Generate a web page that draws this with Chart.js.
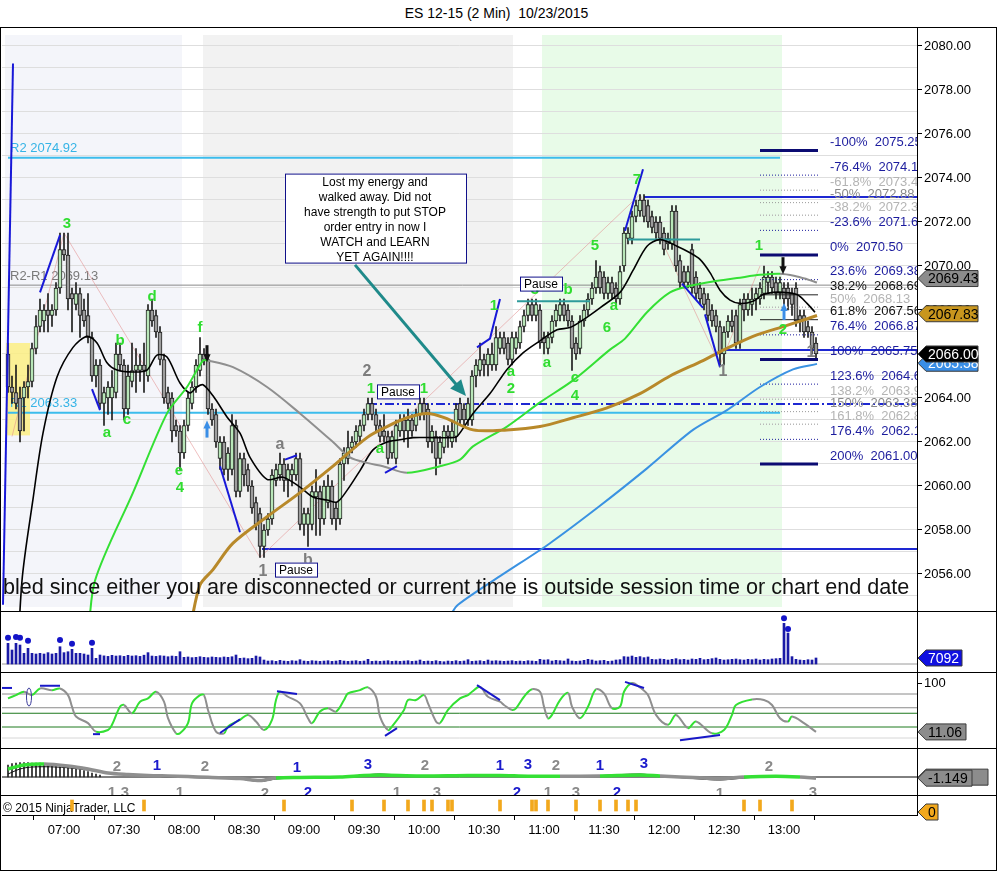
<!DOCTYPE html>
<html lang="en">
<head>
<meta charset="utf-8">
<title>ES 12-15 (2 Min) 10/23/2015</title>
<script src="https://cdn.jsdelivr.net/npm/chart.js@4.4.1/dist/chart.umd.min.js"></script>
<style>
  html, body { margin: 0; padding: 0; background: #fff; }
  #wrap { position: relative; width: 997px; height: 871px; overflow: hidden; font-family: 'Liberation Sans', Arial, sans-serif; }
  #title { position: absolute; left: 0; top: 5px; width: 993px; text-align: center; font-size: 14px; line-height: 16px; color: #000; }
  #frame { position: absolute; left: 0; top: 27px; width: 997px; height: 844px; box-sizing: border-box; border: 1px solid #000; z-index: 3; pointer-events: none; }
  .sep { position: absolute; left: 0; width: 997px; height: 1px; background: #000; z-index: 3; }
  canvas { position: absolute; left: 0; }
</style>
</head>
<body>
<div id="wrap">
  <div id="title">ES 12-15 (2 Min)&nbsp; 10/23/2015</div>
  <canvas id="priceChart" width="997" height="583" style="top:28px"></canvas>
  <canvas id="volumeChart" width="997" height="61" style="top:611px"></canvas>
  <canvas id="stochChart" width="997" height="76" style="top:672px"></canvas>
  <canvas id="macdChart" width="997" height="47" style="top:748px"></canvas>
  <canvas id="timeChart" width="997" height="76" style="top:795px"></canvas>
  <div class="sep" style="top:611px"></div>
  <div class="sep" style="top:672px"></div>
  <div class="sep" style="top:748px"></div>
  <div class="sep" style="top:795px"></div>
  <div id="frame"></div>
</div>
<script>
// ---------- data ----------
const sessionStart = '06:32';          // first 2 minute bar
const timeTicks = ['07:00', '07:30', '08:00', '08:30', '09:00', '09:30', '10:00',
                   '10:30', '11:00', '11:30', '12:00', '12:30', '13:00'];

const opens = [
  2066.0, 2064.5, 2064.25, 2064.0, 2064.0, 2064.5, 2064.75, 2066.25, 2067.25, 2067.5,
  2068.0, 2067.75, 2068.0, 2069.0, 2070.75, 2070.5, 2068.75, 2068.25, 2068.75, 2068.0,
  2067.75, 2066.75, 2065.0, 2065.5, 2063.75, 2064.0, 2064.0, 2064.25, 2066.0, 2065.5,
  2063.5, 2064.75, 2065.25, 2065.25, 2065.5, 2065.0, 2068.0, 2067.75, 2067.0, 2065.75,
  2064.25, 2064.0, 2062.75, 2062.5, 2061.5, 2062.75, 2063.75, 2064.5, 2065.25, 2066.0,
  2065.75, 2063.5, 2063.25, 2061.25, 2062.0, 2060.75, 2060.75, 2062.75, 2059.75, 2061.25,
  2060.75, 2060.0, 2059.25, 2058.75, 2057.25, 2058.0, 2058.5, 2060.25, 2060.5, 2061.0,
  2060.25, 2060.5, 2060.5, 2061.25, 2058.25, 2058.25, 2058.25, 2059.5, 2059.75, 2058.5,
  2059.25, 2060.0, 2059.0, 2058.5, 2061.0, 2061.25, 2061.75, 2062.0, 2062.25, 2062.75,
  2063.25, 2063.75, 2063.25, 2062.75, 2062.5, 2062.25, 2061.5, 2061.25, 2062.5, 2063.0,
  2062.5, 2063.0, 2062.75, 2063.25, 2063.75, 2063.5, 2062.0, 2062.25, 2061.25, 2061.75,
  2062.5, 2062.0, 2062.25, 2063.75, 2063.5, 2063.0, 2063.0, 2065.0, 2065.25, 2065.75,
  2065.5, 2065.5, 2065.5, 2066.25, 2066.75, 2066.5, 2065.75, 2066.25, 2066.5, 2067.25,
  2067.75, 2068.25, 2067.75, 2068.0, 2066.75, 2066.25, 2066.75, 2067.5, 2067.75, 2068.25,
  2068.0, 2067.5, 2066.5, 2066.25, 2067.5, 2068.0, 2068.5, 2069.0, 2069.75, 2069.5,
  2068.75, 2069.25, 2069.0, 2068.5, 2070.0, 2071.25, 2071.25, 2072.25, 2072.5, 2073.0,
  2072.75, 2072.25, 2072.0, 2072.0, 2071.5, 2071.25, 2071.0, 2072.5, 2070.25, 2069.75,
  2069.25, 2070.75, 2069.5, 2069.0, 2068.75, 2068.5, 2068.0, 2067.75, 2067.25, 2066.0,
  2067.0, 2067.5, 2067.75, 2066.5, 2068.5, 2068.0, 2068.25, 2068.5, 2068.5, 2068.75,
  2069.25, 2069.5, 2069.25, 2068.75, 2069.0, 2069.0, 2068.75, 2069.0, 2067.75, 2067.75,
  2067.25, 2067.0, 2066.5
];
const highs = [
  2066.5, 2065.0, 2065.5, 2064.5, 2064.75, 2065.5, 2066.5, 2067.75, 2068.5, 2068.25,
  2068.75, 2068.25, 2069.25, 2071.5, 2071.5, 2071.5, 2069.0, 2069.25, 2069.0, 2068.5,
  2068.75, 2067.0, 2065.75, 2065.75, 2064.5, 2064.75, 2065.25, 2066.5, 2066.5, 2065.75,
  2065.5, 2066.5, 2066.25, 2066.0, 2066.5, 2068.25, 2068.5, 2068.0, 2067.25, 2066.0,
  2064.5, 2064.25, 2063.0, 2062.75, 2063.0, 2064.25, 2064.75, 2065.75, 2066.75, 2066.25,
  2066.0, 2063.75, 2063.5, 2062.25, 2062.25, 2061.75, 2063.25, 2063.0, 2061.5, 2061.5,
  2061.0, 2060.25, 2059.5, 2059.0, 2058.25, 2058.75, 2060.75, 2061.0, 2061.5, 2061.25,
  2061.0, 2061.0, 2061.5, 2061.5, 2059.0, 2059.0, 2060.0, 2060.75, 2060.0, 2060.25,
  2060.5, 2060.25, 2059.25, 2061.25, 2061.75, 2062.5, 2062.25, 2062.75, 2063.0, 2063.5,
  2064.0, 2064.0, 2063.5, 2063.0, 2063.25, 2062.5, 2062.5, 2063.0, 2063.25, 2063.25,
  2063.5, 2063.25, 2063.5, 2064.0, 2064.0, 2063.75, 2062.75, 2062.5, 2062.25, 2062.75,
  2062.75, 2063.0, 2063.75, 2064.0, 2063.75, 2064.0, 2065.25, 2065.75, 2066.5, 2066.0,
  2066.25, 2066.5, 2067.25, 2067.0, 2067.0, 2066.75, 2067.0, 2067.0, 2067.5, 2068.0,
  2068.5, 2068.5, 2068.5, 2068.25, 2067.0, 2067.0, 2067.75, 2068.25, 2068.5, 2068.5,
  2068.25, 2067.75, 2066.75, 2067.75, 2068.25, 2068.75, 2069.25, 2070.25, 2070.0, 2069.75,
  2069.5, 2069.5, 2069.25, 2070.0, 2071.75, 2071.75, 2072.5, 2073.0, 2073.25, 2073.25,
  2073.0, 2072.5, 2072.25, 2072.25, 2071.75, 2071.5, 2072.75, 2072.75, 2070.5, 2070.0,
  2070.0, 2071.0, 2069.75, 2069.25, 2069.0, 2068.75, 2068.25, 2068.0, 2067.5, 2067.25,
  2067.75, 2068.0, 2068.0, 2068.5, 2068.75, 2068.75, 2069.0, 2069.0, 2069.25, 2070.0,
  2069.75, 2069.75, 2069.5, 2069.5, 2069.25, 2069.25, 2069.0, 2069.25, 2068.0, 2068.0,
  2067.5, 2067.25, 2066.75
];
const lows = [
  2064.25, 2063.75, 2063.5, 2062.0, 2062.5, 2064.0, 2064.5, 2066.0, 2067.0, 2067.0,
  2067.0, 2067.25, 2067.75, 2068.75, 2070.25, 2068.0, 2067.0, 2068.0, 2066.75, 2067.25,
  2066.5, 2064.75, 2064.5, 2063.5, 2062.75, 2063.25, 2063.0, 2064.0, 2065.25, 2063.0,
  2063.25, 2064.5, 2064.25, 2064.75, 2064.25, 2064.75, 2067.25, 2066.75, 2065.5, 2063.75,
  2063.5, 2062.0, 2062.25, 2060.75, 2061.25, 2062.5, 2063.5, 2064.25, 2065.0, 2065.5,
  2063.25, 2062.75, 2061.75, 2060.75, 2060.5, 2060.25, 2060.5, 2059.5, 2059.5, 2060.0,
  2059.75, 2058.75, 2058.0, 2056.75, 2056.75, 2057.75, 2058.25, 2060.0, 2060.25, 2059.75,
  2059.5, 2060.0, 2060.25, 2058.0, 2057.75, 2057.25, 2058.0, 2057.75, 2057.75, 2058.25,
  2059.0, 2058.25, 2058.0, 2058.25, 2060.25, 2061.0, 2061.5, 2061.75, 2062.0, 2062.5,
  2063.0, 2063.0, 2062.5, 2062.0, 2062.0, 2061.0, 2061.25, 2061.0, 2062.25, 2062.0,
  2061.75, 2062.25, 2062.5, 2063.0, 2063.0, 2061.75, 2061.5, 2060.5, 2061.0, 2061.5,
  2061.75, 2061.75, 2062.0, 2062.75, 2062.75, 2062.75, 2062.75, 2064.5, 2065.0, 2065.0,
  2065.0, 2065.25, 2065.25, 2066.0, 2066.0, 2065.5, 2065.5, 2066.0, 2066.25, 2067.0,
  2067.5, 2067.5, 2067.5, 2066.25, 2066.0, 2066.0, 2066.5, 2067.25, 2067.5, 2067.5,
  2067.25, 2065.25, 2065.75, 2066.0, 2067.25, 2067.75, 2068.25, 2068.75, 2068.75, 2068.5,
  2068.5, 2068.5, 2068.25, 2068.25, 2069.75, 2071.0, 2071.0, 2072.0, 2072.25, 2072.0,
  2071.75, 2071.5, 2071.25, 2071.0, 2070.5, 2070.75, 2070.75, 2069.75, 2069.0, 2069.0,
  2069.0, 2068.75, 2068.5, 2068.25, 2068.0, 2067.5, 2067.25, 2067.0, 2065.5, 2065.5,
  2066.75, 2067.0, 2066.25, 2066.25, 2067.5, 2067.75, 2067.75, 2068.0, 2068.25, 2068.5,
  2068.75, 2068.75, 2068.5, 2068.5, 2068.25, 2068.0, 2067.75, 2067.25, 2067.0, 2066.75,
  2066.75, 2066.0, 2065.75
];
const closes = [
  2064.5, 2064.25, 2063.75, 2062.5, 2064.5, 2064.75, 2066.25, 2067.25, 2068.0, 2068.0,
  2067.75, 2068.0, 2069.0, 2070.75, 2070.5, 2068.5, 2068.5, 2068.75, 2067.75, 2067.5,
  2066.75, 2065.0, 2065.5, 2063.75, 2064.25, 2064.5, 2064.5, 2066.0, 2065.5, 2063.5,
  2065.0, 2065.25, 2065.5, 2065.5, 2065.25, 2068.0, 2067.5, 2067.0, 2065.75, 2064.0,
  2063.75, 2062.5, 2062.5, 2061.5, 2062.75, 2064.0, 2064.5, 2065.5, 2066.0, 2065.75,
  2063.5, 2063.0, 2062.0, 2062.0, 2060.75, 2061.5, 2062.75, 2059.75, 2061.25, 2060.5,
  2060.0, 2059.0, 2058.25, 2057.25, 2058.0, 2058.5, 2060.5, 2060.75, 2061.0, 2060.25,
  2060.75, 2060.75, 2061.25, 2058.25, 2058.75, 2058.75, 2059.75, 2059.75, 2058.5, 2060.0,
  2060.0, 2058.5, 2058.5, 2061.0, 2061.5, 2061.75, 2062.0, 2062.5, 2062.75, 2063.25,
  2063.75, 2063.25, 2062.75, 2062.25, 2062.25, 2061.25, 2062.25, 2062.75, 2063.0, 2062.5,
  2063.0, 2062.5, 2063.25, 2063.75, 2063.25, 2062.0, 2062.5, 2061.25, 2062.0, 2062.5,
  2062.25, 2062.5, 2063.5, 2063.0, 2063.0, 2063.75, 2065.0, 2065.5, 2065.75, 2065.5,
  2066.0, 2066.0, 2066.75, 2066.75, 2066.25, 2065.75, 2066.75, 2066.75, 2067.25, 2067.75,
  2068.25, 2067.75, 2068.25, 2066.5, 2066.5, 2066.75, 2067.5, 2068.0, 2068.25, 2067.75,
  2067.5, 2066.25, 2066.0, 2067.5, 2068.0, 2068.5, 2069.0, 2069.5, 2069.0, 2068.75,
  2069.25, 2068.75, 2068.5, 2069.75, 2071.5, 2071.5, 2072.25, 2072.75, 2073.0, 2072.25,
  2072.0, 2071.75, 2071.5, 2071.25, 2070.75, 2071.0, 2072.5, 2070.0, 2069.25, 2069.25,
  2069.75, 2069.0, 2068.75, 2068.5, 2068.25, 2067.75, 2067.5, 2067.25, 2066.0, 2067.0,
  2067.5, 2067.25, 2066.5, 2068.25, 2068.0, 2068.5, 2068.5, 2068.75, 2069.0, 2069.5,
  2069.5, 2069.0, 2068.75, 2069.25, 2068.5, 2068.5, 2068.25, 2067.5, 2067.5, 2067.0,
  2067.0, 2066.25, 2066.0
];
const volumes = [
  24400, 16500, 24400, 22400, 12600, 18500, 12600, 11800, 12600, 11800,
  13400, 11800, 12600, 20400, 13400, 14500, 17300, 12600, 12600, 11800,
  10600, 18500, 6700, 10600, 9600, 9000, 10200, 9400, 9800, 9000,
  10200, 9400, 9800, 9000, 10400, 13400, 9400, 9000, 9800, 9400,
  8600, 9400, 9000, 14500, 7900, 8300, 7500, 7900, 8600, 7900,
  7500, 8300, 7900, 7500, 8300, 7900, 8600, 10600, 6700, 7100,
  6300, 6700, 9400, 8300, 4700, 3500, 3900, 3100, 4300, 3500,
  3100, 3900, 3500, 5100, 3500, 3100, 3900, 3500, 3100, 3500,
  3900, 3100, 3500, 4300, 3500, 3100, 3500, 3900, 3100, 3500,
  5500, 3100, 3500, 3100, 3500, 3900, 3100, 3500, 3100, 3500,
  3900, 3100, 3500, 4700, 3100, 3500, 3100, 3900, 3100, 2700,
  3500, 3100, 3900, 3100, 3500, 5100, 3100, 3500, 3900, 3100,
  4700, 3500, 3900, 3500, 3100, 3500, 3900, 3100, 3500, 3100,
  3900, 3500, 3100, 5500, 4700, 5100, 3500, 4300, 3900, 3500,
  5900, 3500, 3100, 3500, 4300, 5500, 4700, 3500, 3900, 4300,
  3100, 3500, 4700, 5100, 8700, 8300, 9400, 7900, 8700, 7500,
  8300, 5500, 5100, 5900, 5500, 4700, 5500, 6300, 5100, 5500,
  4700, 5900, 5500, 6700, 5100, 5500, 6300, 7100, 5500, 4700,
  5100, 5500, 5900, 5100, 4700, 5500, 5100, 5900, 4700, 5500,
  5100, 5900, 6300, 6700, 48000, 36500, 8700, 5500, 4700, 4300,
  5100, 4700, 7092
];
const volumeDots = [[0, 31000], [2, 32000], [3, 31000], [5, 27500], [13, 28300],
                    [16, 24000], [21, 25000], [194, 54000], [195, 41300]];

// moving averages as drawn (bar, price)
const fastMA = [[2, 2050.5], [3.5, 2055.7], [6.25, 2059.4], [8.75, 2062.4], [12.25, 2064.95],
  [16.25, 2066.3], [19.75, 2066.8], [22.25, 2066.5], [24.75, 2065.6], [27.25, 2065.27],
  [31.25, 2065.18], [34.75, 2065.27], [37.25, 2065.95], [39.75, 2065.86], [43, 2064.68],
  [45.5, 2064.23], [47.25, 2064.5], [48.75, 2064.6], [51.25, 2064.1], [54.75, 2063.14],
  [58, 2062.4], [60.5, 2061.3], [64.75, 2060.3], [68.75, 2060.4], [73, 2059.95],
  [76.25, 2059.5], [79.75, 2059.36], [82.25, 2059.27], [84.75, 2059.8], [88, 2060.7],
  [91.25, 2061.64], [94.75, 2062.0], [98, 2062.1], [101.25, 2062.2], [106.25, 2062.2],
  [110.5, 2062.2], [112.25, 2062.25], [116.25, 2063.3], [120.5, 2064.2], [124.75, 2065.3],
  [128.75, 2066.05], [133, 2066.6], [137.25, 2067.1], [140.5, 2067.2], [143.75, 2067.55],
  [148, 2068.1], [153, 2068.8], [156.25, 2069.8], [159.75, 2070.9], [163, 2071.2],
  [167.25, 2070.9], [170.5, 2070.6], [173, 2070.3], [175.5, 2069.7], [178, 2068.9],
  [180.5, 2068.45], [183, 2068.3], [186.25, 2068.4], [188.75, 2068.7], [191.25, 2068.8],
  [193.75, 2068.8], [197.25, 2068.7], [199.75, 2068.3], [201.75, 2067.9]];
const slopeMA = [[20, 2053.0], [21.75, 2055.7], [31.25, 2059.7], [39.75, 2063.3], [44.75, 2064.5],
  [48.75, 2065.7], [50, 2065.7], [56.25, 2065.4], [64.75, 2064.5], [73, 2063.3],
  [81.25, 2062.0], [85.5, 2061.3], [89.75, 2061.05], [93.75, 2060.9], [99.75, 2060.6],
  [108, 2060.9], [113, 2061.2], [116.25, 2061.8], [124.75, 2062.7], [133, 2063.8],
  [141.25, 2064.8], [150.5, 2066.2], [154.25, 2066.7], [159.75, 2067.9], [165.5, 2068.8],
  [170.5, 2069.1], [176.25, 2069.3], [182.25, 2069.45], [188, 2069.6], [193, 2069.65],
  [196.75, 2069.55], [199.75, 2069.4], [202.25, 2069.25]];
const goldMA = [[45.5, 2053.5], [48, 2055.5], [51.25, 2056.2], [56.25, 2057.4], [64.75, 2058.6],
  [73, 2059.7], [81.25, 2060.9], [89.75, 2062.2], [94.75, 2062.7], [99.75, 2063.1],
  [104.75, 2063.3], [109.25, 2063.1], [116.25, 2062.55], [124.75, 2062.55], [133, 2062.7],
  [141.25, 2063.1], [149.75, 2063.55], [158, 2064.2], [165.5, 2065.0], [173.75, 2065.7],
  [178, 2066.1], [186.25, 2066.8], [194.75, 2067.3], [202.25, 2067.75]];
const blueMA = [[110.5, 2054.1], [112.5, 2054.6], [123, 2055.9], [135.5, 2057.4], [148, 2059.1],
  [159.75, 2060.8], [171.25, 2062.55], [179.75, 2063.45], [188, 2064.5], [196.25, 2065.3],
  [202.25, 2065.55]];

// levels and drawings on the price panel
const pivotLevels = [['R2', 2074.92], ['R2-R1', 2069.13], ['R1', 2063.33]];
const drawnLevels = [[90, 2063.73], [63.5, 2057.14], [159, 2073.14], [178, 2066.18]];
const tealLevels = [[127.25, 145.5, 2068.4], [155, 173, 2071.2]];
const trendMarks = [
  [[-1.25, 2054.6], [1.25, 2079.2]],
  [[8, 2068.8], [13, 2071.4]],
  [[21, 2064.4], [23, 2063.45]],
  [[53, 2060.9], [58, 2057.9]],
  [[69.25, 2061.2], [72.25, 2061.4]],
  [[94.25, 2060.6], [97.25, 2060.9]],
  [[117.25, 2066.3], [120.5, 2066.7], [123, 2068.5]],
  [[154.25, 2071.6], [158.75, 2074.4]],
  [[168.5, 2069.2], [173.75, 2068.1]],
  [[174.25, 2067.8], [178, 2065.4]]
];
const zigzag = [[1, 2062.25], [14, 2071.5], [63, 2056.75], [158, 2073.25], [178, 2065.5], [188, 2070.0]];
const fibLevels = [
  ['-100%', 2075.25, 'thick'], ['-76.4%', 2074.13, 'dot'], ['-61.8%', 2073.44, 'faint'],
  ['-50%', 2072.88, 'mid'], ['-38.2%', 2072.31, 'faint'], ['-23.6%', 2071.62, 'dot'],
  ['0%', 2070.50, 'thick'], ['23.6%', 2069.38, 'dot'], ['38.2%', 2068.69, 'solid'],
  ['50%', 2068.13, 'faint'], ['61.8%', 2067.56, 'solid'], ['76.4%', 2066.87, 'dot'],
  ['100%', 2065.75, 'thick'], ['123.6%', 2064.63, 'dot'], ['138.2%', 2063.94, 'faint'],
  ['150%', 2063.38, 'mid'], ['161.8%', 2062.81, 'faint'], ['176.4%', 2062.12, 'dot'],
  ['200%', 2061.00, 'thick']
];
const waveLabels = [
  [14.75, 2071.9, '3', 'g'], [24.75, 2062.4, 'a', 'g'], [28, 2066.6, 'b', 'g'], [29.75, 2063.0, 'c', 'g'],
  [36, 2068.6, 'd', 'g'], [42.75, 2060.7, 'e', 'g'], [43, 2059.9, '4', 'g'], [48, 2067.2, 'f', 'g'],
  [63.75, 2056.1, '1', 'k'], [68, 2061.9, 'a', 'k'], [75, 2056.6, 'b', 'k'], [89.75, 2065.2, '2', 'k'],
  [90.75, 2064.4, '1', 'g'], [104, 2064.4, '1', 'g'], [93, 2061.7, 'a', 'g'], [121.5, 2068.2, '1', 'g'],
  [125.75, 2065.2, 'a', 'g'], [125.75, 2064.4, '2', 'g'], [131.75, 2068.9, '3', 'g'], [140, 2068.9, 'b', 'g'],
  [134.75, 2065.6, 'a', 'g'], [141.75, 2064.9, 'c', 'g'], [141.75, 2064.1, '4', 'g'], [146.75, 2070.9, '5', 'g'],
  [151.5, 2068.2, 'a', 'g'], [149.75, 2067.2, '6', 'g'], [157.25, 2073.9, '7', 'g'], [178.75, 2065.2, '1', 'k'],
  [187.75, 2070.9, '1', 'g'], [193.75, 2067.1, '2', 'g'], [200.75, 2066.05, '1', 'k']
];
const pauseBoxes = [[72, 2056.2], [97.5, 2064.3], [133.25, 2069.2]];
const noteLines = ['Lost my energy and', 'walked away. Did not', 'have strength to put STOP',
                   'order entry in now I', 'WATCH and LEARN', 'YET AGAIN!!!!'];
const noteAnchor = [91.75, 2074.2];
const noteArrow = [[86.75, 2070.05], [114.5, 2064.09]];
const downArrows = [[49.75, 2066.4], [193.75, 2070.4]];
const upArrows = [[49.75, 2062.2], [194, 2067.55]];
const sessionBands = [[-0.75, 43.5], [48.75, 126.25], [133.5, 193.5]];
const yellowZone = [[-0.5, 2066.5], [5.5, 2062.3]];
const priceTags = [['2065.58', 2065.58, 'blue'], ['2069.43', 2069.43, 'gray'],
                   ['2067.83', 2067.83, 'gold'], ['2066.00', 2066.00, 'black']];
const disconnectText = 'bled since either you are disconnected or current time is outside session time or chart end date';

// stochastic panel
const stochK = [[0, 72], [2, 78], [4, 84], [6, 78], [8, 90], [11, 87], [13, 90], [15, 78], [16, 57], [17, 39],
  [20, 27], [22, 11.5], [25, 14.5], [26, 24], [28, 57], [29, 60], [31, 45], [33, 66], [35, 72], [37, 84],
  [39, 66], [40, 36], [42, 8.5], [43, 8.5], [45, 27], [46, 63], [48, 78], [49, 78], [50, 51], [52, 11.5],
  [54, 8.5], [55, 21], [58, 33], [60, 42], [62, 30], [64, 14.5], [66, 33], [67, 69], [68, 84], [70, 75],
  [73, 63], [75, 36], [76, 27], [78, 48], [80, 54], [82, 48], [84, 69], [85, 81], [88, 87], [90, 92],
  [92, 75], [93, 39], [95, 14.5], [96, 21], [99, 51], [100, 69], [102, 69], [104, 78], [105, 63], [107, 30],
  [108, 27], [110, 51], [113, 72], [115, 78], [116, 84], [118, 93], [120, 75], [123, 66], [124, 60], [126, 51],
  [127, 54], [129, 75], [131, 88.5], [133, 84], [134, 57], [135, 36], [136, 42], [138, 69], [140, 82], [141, 57],
  [143, 36], [145, 57], [147, 88.5], [149, 81], [151, 54], [153, 57], [154, 84], [156, 100], [158, 92], [160, 78],
  [162, 42], [165, 24], [167, 42], [170, 18], [172, 30], [176, 8.5], [179, 14.5], [181, 42], [182, 60], [186, 70],
  [189, 69], [191, 60], [193, 36], [195, 30], [196, 39], [199, 27], [202, 11.06]];
const stochLevels = [80, 55, 45, 20, 0];
const stochMarks = [
  [[-2, 91], [1, 91]], [[8, 95], [13, 95]], [[21.25, 7], [23, 7]], [[53, 9], [58, 34]],
  [[67.25, 85], [72.25, 80]], [[94.25, 4], [97.25, 18]], [[117.25, 96], [123, 69]],
  [[154.25, 102], [159, 91]], [[168, -4], [178, 5.5]]
];

// MACD style panel
const macdHist = [12, 13.5, 14, 14.5, 14.5, 14.5, 14, 14, 14, 13.5, 13, 13, 12.5, 12, 11, 10.5,
                  9.5, 8.5, 7.5, 6.5, 5.5, 4, 3, 2];
const macdAvg = [[0, 8], [4, 12], [9, 13], [15, 11], [20, 8], [25, 4], [30, 2.5], [35, 1.5], [40, 1],
  [45, 0.5], [50, -0.3], [58, -1.5], [63, -3.5], [67, -1], [73, -0.5], [83, 0], [89, 1.5], [93, 2],
  [103, 1], [115, 1.5], [123, 1.5], [130, 0.8], [138, 0.8], [148, 1], [158, 2], [163, 1], [173, -0.8],
  [178, -1.8], [184, 0], [192, 0.8], [198, 0], [202, -1.149]];
const macdDiff = [[0, 3], [3, 8], [6, 10], [12, 10], [18, 8], [25, 4], [33, 2], [40, 0], [45, -0.5],
  [50, -1], [58, -2], [63, -4.5], [67, -2], [73, -1], [83, 0.2], [89, 2], [93, 3], [103, 1], [115, 2.5],
  [123, 2], [130, 1], [138, 0.5], [148, 1.5], [158, 3], [163, 1], [173, -2], [178, -3], [184, -1],
  [192, 1], [198, 0], [202, -1.5]];
const macdRising = [[0, 8], [67, 105], [111, 132], [145, 162], [184, 196]];
const macdLabels = [
  [27.25, 10, '2', 'k'], [26, -16, '1', 'k'], [29.25, -16, '3', 'k'], [37.25, 11, '1', 'b'],
  [49.25, 10, '2', 'k'], [43, -16, '1', 'k'], [64.25, -17, '2', 'k'], [72.25, 9, '1', 'b'],
  [75, -16, '2', 'b'], [90, 12, '3', 'b'], [104.25, 11, '2', 'k'], [97.25, -16, '1', 'k'],
  [107.25, -16, '3', 'k'], [123, 11, '1', 'b'], [130, 12, '3', 'b'], [127.25, -16, '2', 'b'],
  [137, 11, '2', 'k'], [135, -16, '1', 'k'], [142, -16, '3', 'k'], [148, 11, '1', 'b'],
  [152.25, -16, '2', 'b'], [159, 13, '3', 'b'], [178, -17, '1', 'k'], [190.25, 10, '2', 'k'],
  [201.25, -16, '3', 'k']
];

// alert markers on the bottom strip
const alertBars = [16, 34, 69, 86, 94, 100, 104, 106, 110, 111, 123, 131, 132, 135, 142, 148, 152, 155, 157, 184, 188, 196];

// ---------- styling / helpers ----------
const FONT = "'Liberation Sans', Arial, Helvetica, sans-serif";
Chart.defaults.font.family = FONT;
Chart.defaults.font.size = 13;
Chart.defaults.color = '#000';

const X_MIN = -1.5, X_MAX = 227.25;
const UP = '#b8e6b8', DOWN = '#9d9d9d', EDGE = '#1e1e1e';
const WAVE_GREEN = '#30dd30', WAVE_GRAY = '#7d7d7d';
const NAVY = '#1c1c9e';

const pts = arr => arr.map(([x, y]) => ({ x, y }));
// fixed 80px price axis and no extra room for the end labels, so every panel lines up
const fixRightAxis = s => { s.width = 80; s.paddingTop = 0; s.paddingBottom = 0; };
const quiet = { legend: { display: false }, tooltip: { enabled: false } };
const hiddenX = () => ({ type: 'linear', min: X_MIN, max: X_MAX, offset: false, display: false });
const noPad = { padding: { left: 2, right: 0, top: 0, bottom: 0 }, autoPadding: false };

function lineSet(data, color, width, extra) {
  return Object.assign({
    type: 'line', data: pts(data), borderColor: color, borderWidth: width,
    pointRadius: 0, tension: 0, fill: false, order: 1
  }, extra || {});
}

function timeIndex(hhmm) {
  const [h, m] = hhmm.split(':').map(Number);
  const [h0, m0] = sessionStart.split(':').map(Number);
  return ((h * 60 + m) - (h0 * 60 + m0)) / 2;
}

function drawTag(ctx, x, y, text, fill, ink, w) {
  const h = 16;
  ctx.beginPath();
  ctx.moveTo(x + 1, y);
  ctx.lineTo(x + 9, y - h / 2);
  ctx.lineTo(x + 9 + w, y - h / 2);
  ctx.lineTo(x + 9 + w, y + h / 2);
  ctx.lineTo(x + 9, y + h / 2);
  ctx.closePath();
  ctx.fillStyle = fill;
  ctx.fill();
  ctx.strokeStyle = '#3a3a3a';
  ctx.lineWidth = 1;
  ctx.stroke();
  ctx.fillStyle = ink;
  ctx.font = '14px ' + FONT;
  ctx.textAlign = 'left';
  ctx.textBaseline = 'middle';
  ctx.fillText(text, x + 11, y + 1);
}

function drawArrow(ctx, x1, y1, x2, y2, color, width, head) {
  const ang = Math.atan2(y2 - y1, x2 - x1);
  ctx.strokeStyle = color;
  ctx.fillStyle = color;
  ctx.lineWidth = width;
  ctx.beginPath();
  ctx.moveTo(x1, y1);
  ctx.lineTo(x2 - Math.cos(ang) * head * 0.8, y2 - Math.sin(ang) * head * 0.8);
  ctx.stroke();
  ctx.beginPath();
  ctx.moveTo(x2, y2);
  ctx.lineTo(x2 - head * Math.cos(ang) + head * 0.45 * Math.sin(ang), y2 - head * Math.sin(ang) - head * 0.45 * Math.cos(ang));
  ctx.lineTo(x2 - head * Math.cos(ang) - head * 0.45 * Math.sin(ang), y2 - head * Math.sin(ang) + head * 0.45 * Math.cos(ang));
  ctx.closePath();
  ctx.fill();
}

const tagColors = {
  blue: ['#3a8ee6', '#fff'], gray: ['#8c8c8c', '#000'], gold: ['#c8961e', '#000'], black: ['#000', '#fff']
};
const fibStyle = {
  thick: { color: '#0b0b72', width: 3, dash: [], ink: NAVY },
  dot: { color: NAVY, width: 1, dash: [1, 2], ink: NAVY },
  faint: { color: '#b8b8b8', width: 1.5, dash: [1, 2], ink: '#b4b4b4' },
  mid: { color: '#9a9a9a', width: 1, dash: [1, 2], ink: '#8a8a8a' },
  solid: { color: '#222', width: 1, dash: [], ink: '#111' }
};

// ---------- price panel ----------
const priceDecor = {
  id: 'priceDecor',
  beforeDraw(chart) {
    const { ctx, chartArea: a, scales: { x } } = chart;
    const bandColors = ['#f4f5fa', '#f2f2f2', '#e8fbe8'];
    ctx.save();
    sessionBands.forEach(([from, to], k) => {
      const l = x.getPixelForValue(from), r = x.getPixelForValue(to);
      ctx.fillStyle = bandColors[k];
      ctx.fillRect(l, a.top + 7, r - l, a.bottom - a.top - 11);
    });
    ctx.restore();
  },
  beforeDatasetsDraw(chart) {
    const { ctx, scales: { x, y } } = chart;
    ctx.save();
    const [[zx0, zy0], [zx1, zy1]] = yellowZone;
    ctx.fillStyle = 'rgba(252, 238, 130, 0.85)';
    ctx.fillRect(x.getPixelForValue(zx0), y.getPixelForValue(zy0),
                 x.getPixelForValue(zx1) - x.getPixelForValue(zx0), y.getPixelForValue(zy1) - y.getPixelForValue(zy0));
    ctx.font = '13px ' + FONT;
    ctx.textAlign = 'left';
    ctx.textBaseline = 'middle';
    pivotLevels.forEach(([name, price]) => {
      ctx.fillStyle = name === 'R2-R1' ? '#7a7a7a' : '#36b4e6';
      ctx.fillText(name + ' ' + price.toFixed(2), x.getPixelForValue(0.5), y.getPixelForValue(price) - 9);
    });
    ctx.restore();
  },
  afterDatasetsDraw(chart) {
    const { ctx, chartArea: a, scales: { x, y } } = chart;
    const X = v => x.getPixelForValue(v), Y = v => y.getPixelForValue(v);
    ctx.save();
    ctx.beginPath();
    ctx.rect(a.left, a.top, a.right - a.left, a.bottom - a.top);
    ctx.clip();

    // wave count labels
    ctx.textAlign = 'center';
    ctx.textBaseline = 'middle';
    waveLabels.forEach(([i, p, t, c]) => {
      ctx.font = (c === 'k' ? 'bold 16px ' : 'bold 15px ') + FONT;
      ctx.fillStyle = c === 'k' ? WAVE_GRAY : WAVE_GREEN;
      ctx.fillText(t, X(i), Y(p));
    });

    // pause boxes
    ctx.font = '12px ' + FONT;
    pauseBoxes.forEach(([i, p]) => {
      const cx = X(i), cy = Y(p);
      ctx.fillStyle = '#fff';
      ctx.fillRect(cx - 21, cy - 7, 42, 14);
      ctx.strokeStyle = '#10108a';
      ctx.lineWidth = 1;
      ctx.strokeRect(cx - 21 + 0.5, cy - 7 + 0.5, 42, 14);
      ctx.fillStyle = '#000';
      ctx.fillText('Pause', cx, cy + 1);
    });

    // comment box and its arrow
    const nx = X(noteAnchor[0]), ny = Y(noteAnchor[1]);
    ctx.fillStyle = '#fff';
    ctx.fillRect(nx - 90, ny, 181, 89);
    ctx.strokeStyle = '#10108a';
    ctx.strokeRect(nx - 90 + 0.5, ny + 0.5, 181, 89);
    ctx.fillStyle = '#000';
    noteLines.forEach((line, k) => ctx.fillText(line, nx, ny + 9 + k * 15));
    drawArrow(ctx, X(noteArrow[0][0]), Y(noteArrow[0][1]), X(noteArrow[1][0]), Y(noteArrow[1][1]), '#1f8a8a', 3, 16);

    // signal arrows
    downArrows.forEach(([i, p]) => drawArrow(ctx, X(i), Y(p), X(i), Y(p) + 17, '#111', 3, 8));
    upArrows.forEach(([i, p]) => drawArrow(ctx, X(i), Y(p), X(i), Y(p) - 17, '#3a8ee6', 3, 8));

    // fibonacci labels
    ctx.font = '13px ' + FONT;
    ctx.textAlign = 'left';
    fibLevels.forEach(([r, p, st]) => {
      ctx.fillStyle = fibStyle[st].ink;
      ctx.fillText(r + '  ' + p.toFixed(2), X(205.5), Y(p) - 8);
    });

    // disconnected notice
    ctx.font = '21.6px ' + FONT;
    ctx.fillStyle = '#111';
    ctx.fillText(disconnectText, a.left + 1, a.bottom - 23);
    ctx.restore();
  },
  afterDraw(chart) {
    const { ctx, chartArea: a, scales: { y } } = chart;
    ctx.save();
    priceTags.forEach(([t, p, c]) => drawTag(ctx, a.right, y.getPixelForValue(p), t, tagColors[c][0], tagColors[c][1], 52));
    ctx.restore();
  }
};

const priceSets = [];
pivotLevels.forEach(([name, price]) => {
  const gray = name === 'R2-R1';
  priceSets.push(lineSet([[0, price], [gray ? X_MAX : 193, price]], gray ? '#8a8a8a' : '#3cbcec', gray ? 1 : 2, { order: 9 }));
});
drawnLevels.forEach(([from, price], k) => {
  priceSets.push(lineSet([[from, price], [X_MAX, price]], '#1e28d2', 2, { order: 9, borderDash: k === 0 ? [9, 3, 2, 3] : [] }));
});
tealLevels.forEach(([from, to, price]) => priceSets.push(lineSet([[from, price], [to, price]], '#2e9b9b', 2, { order: 2 })));
fibLevels.forEach(([r, price, st]) => {
  const s = fibStyle[st];
  priceSets.push(lineSet([[188, price], [202.5, price]], s.color, s.width, { order: 3, borderDash: s.dash }));
});
priceSets.push(lineSet(zigzag, 'rgba(225, 140, 140, 0.55)', 1, { order: 8 }));
priceSets.push(lineSet(goldMA, '#b8892a', 3, { tension: 0.3, order: 1 }));
priceSets.push(lineSet(blueMA, '#3a92e2', 2, { tension: 0.3, order: 1 }));
priceSets.push(lineSet(slopeMA, '#34e034', 2, {
  tension: 0.3, order: 1,
  segment: { borderColor: c => (c.p1.parsed.y >= c.p0.parsed.y ? '#34e034' : '#8f8f8f') }
}));
priceSets.push(lineSet(fastMA, '#000', 1.6, { tension: 0.3, order: 1 }));
trendMarks.forEach(seg => priceSets.push(lineSet(seg, '#1818d8', 2, { order: 0 })));
priceSets.push({
  label: 'wicks', data: highs.map((h, i) => ({ x: i, y: [lows[i], h] })),
  backgroundColor: EDGE, barThickness: 1, grouped: false, order: 6
});
priceSets.push({
  label: 'bodies', data: opens.map((o, i) => ({ x: i, y: [o, closes[i]] })),
  backgroundColor: opens.map((o, i) => (closes[i] > o ? UP : DOWN)),
  borderColor: EDGE, borderWidth: 1, borderSkipped: false, barThickness: 4, grouped: false, order: 5
});

new Chart(document.getElementById('priceChart'), {
  type: 'bar',
  data: { datasets: priceSets },
  options: {
    responsive: false, animation: false, events: [],
    layout: noPad,
    plugins: quiet,
    scales: {
      x: hiddenX(),
      y: {
        position: 'right', min: 2054.318, max: 2080.818, afterFit: fixRightAxis,
        ticks: {
          stepSize: 1, includeBounds: false, autoSkip: false, padding: 2, font: { size: 13 },
          callback: v => (v % 2 === 0 ? v.toFixed(2) : '')
        },
        grid: {
          color: '#dedede', tickLength: 5,
          tickColor: c => (c.tick && c.tick.value % 2 === 0 ? '#000' : 'rgba(0,0,0,0)')
        },
        border: { display: true, color: '#000' }
      }
    }
  },
  plugins: [priceDecor]
});

// ---------- volume panel ----------
new Chart(document.getElementById('volumeChart'), {
  type: 'bar',
  data: {
    datasets: [
      lineSet([[X_MIN, 0], [X_MAX, 0]], '#9a9a9a', 1, { order: 3 }),
      { data: volumes.map((v, i) => ({ x: i, y: v })), backgroundColor: '#1a1aa6', barThickness: 2, grouped: false, order: 2 },
      { type: 'line', data: pts(volumeDots), showLine: false, pointRadius: 3, pointBackgroundColor: '#1414c8', pointBorderWidth: 0, order: 1 }
    ]
  },
  options: {
    responsive: false, animation: false, events: [],
    layout: noPad,
    plugins: quiet,
    scales: {
      x: hiddenX(),
      y: { position: 'right', min: -9440, max: 62540, afterFit: fixRightAxis,
           ticks: { display: false }, grid: { display: false }, border: { display: true, color: '#000' } }
    }
  },
  plugins: [{
    id: 'volTag',
    afterDraw(chart) {
      const { ctx, chartArea: a, scales: { y } } = chart;
      ctx.save();
      drawTag(ctx, a.right, y.getPixelForValue(volumes[volumes.length - 1]), '7092', '#1010e0', '#fff', 36);
      ctx.restore();
    }
  }]
});

// ---------- stochastic panel ----------
const stochSets = [];
stochLevels.forEach((lv, k) => {
  const color = ['#8a8a8a', '#8a8a8a', '#1f7a1f', '#1f7a1f', '#d6d6d6'][k];
  stochSets.push(lineSet([[X_MIN, lv], [X_MAX, lv]], color, 1, { order: 5 }));
});
stochMarks.forEach(seg => stochSets.push(lineSet(seg, '#1818c8', 2, { order: 0 })));
stochSets.push(lineSet(stochK, '#34e034', 2, {
  tension: 0.35, order: 1,
  segment: { borderColor: c => (c.p1.parsed.y >= c.p0.parsed.y ? '#34e034' : '#8f8f8f') }
}));

new Chart(document.getElementById('stochChart'), {
  type: 'line',
  data: { datasets: stochSets },
  options: {
    responsive: false, animation: false, events: [],
    layout: noPad,
    plugins: quiet,
    scales: {
      x: hiddenX(),
      y: {
        position: 'right', min: -18.18, max: 120, afterFit: fixRightAxis,
        afterBuildTicks: s => { s.ticks = [{ value: 100 }]; },
        ticks: { padding: 2, font: { size: 13 }, callback: v => String(v) },
        grid: { drawOnChartArea: false, tickLength: 5, tickColor: '#000' },
        border: { display: true, color: '#000' }
      }
    }
  },
  plugins: [{
    id: 'stochDecor',
    afterDatasetsDraw(chart) {
      const { ctx, scales: { x, y } } = chart;
      ctx.save();
      ctx.strokeStyle = '#3a3a9a';
      ctx.lineWidth = 1;
      ctx.beginPath();
      ctx.ellipse(x.getPixelForValue(5.25), y.getPixelForValue(74.5), 2.5, 9, 0, 0, Math.PI * 2);
      ctx.stroke();
      ctx.restore();
    },
    afterDraw(chart) {
      const { ctx, chartArea: a, scales: { y } } = chart;
      const last = stochK[stochK.length - 1][1];
      ctx.save();
      drawTag(ctx, a.right, y.getPixelForValue(last), last.toFixed(2), '#8c8c8c', '#000', 40);
      ctx.restore();
    }
  }]
});

// ---------- MACD panel ----------
const inRising = v => macdRising.some(([a, b]) => v >= a && v < b);
new Chart(document.getElementById('macdChart'), {
  type: 'bar',
  data: {
    datasets: [
      lineSet([[X_MIN, 0], [X_MAX, 0]], '#000', 1, { order: 4 }),
      { data: macdHist.map((v, i) => ({ x: i, y: v })), backgroundColor: '#222', barThickness: 1, grouped: false, order: 3 },
      lineSet(macdDiff, '#111', 1, { tension: 0.3, order: 2 }),
      lineSet(macdAvg, '#8f8f8f', 3.5, {
        tension: 0.3, order: 1,
        segment: { borderColor: c => (inRising(c.p0.parsed.x) ? '#34e034' : '#8f8f8f') }
      })
    ]
  },
  options: {
    responsive: false, animation: false, events: [],
    layout: noPad,
    plugins: quiet,
    scales: {
      x: hiddenX(),
      y: { position: 'right', min: -18, max: 29, afterFit: fixRightAxis,
           ticks: { display: false }, grid: { display: false }, border: { display: true, color: '#000' } }
    }
  },
  plugins: [{
    id: 'macdDecor',
    afterDatasetsDraw(chart) {
      const { ctx, chartArea: a, scales: { x, y } } = chart;
      ctx.save();
      ctx.beginPath();
      ctx.rect(a.left, a.top, a.right - a.left, a.bottom - a.top);
      ctx.clip();
      ctx.font = 'bold 15px ' + FONT;
      ctx.textAlign = 'center';
      ctx.textBaseline = 'middle';
      macdLabels.forEach(([i, v, t, c]) => {
        ctx.fillStyle = c === 'b' ? '#1a1acc' : '#8a8a8a';
        ctx.fillText(t, x.getPixelForValue(i), y.getPixelForValue(v));
      });
      ctx.restore();
    },
    afterDraw(chart) {
      const { ctx, chartArea: a, scales: { y } } = chart;
      const last = macdAvg[macdAvg.length - 1][1];
      const yy = y.getPixelForValue(last);
      ctx.save();
      drawTag(ctx, a.right, yy - 1, last.toFixed(3), '#8c8c8c', '#000', 62);
      drawTag(ctx, a.right, yy, last.toFixed(3), '#8c8c8c', '#000', 46);
      ctx.restore();
    }
  }]
});

// ---------- alert strip + time axis ----------
new Chart(document.getElementById('timeChart'), {
  type: 'bar',
  data: {
    datasets: [{ data: alertBars.map(i => ({ x: i, y: [0.2, 0.75] })), backgroundColor: '#f2a81c', barThickness: 3, grouped: false }]
  },
  options: {
    responsive: false, animation: false, events: [],
    layout: noPad,
    plugins: quiet,
    scales: {
      x: {
        type: 'linear', min: X_MIN, max: X_MAX, offset: false, position: 'bottom',
        afterFit: s => { s.height = 56; s.paddingLeft = 0; s.paddingRight = 0; },
        afterBuildTicks: s => { s.ticks = timeTicks.map(t => ({ value: timeIndex(t) })); },
        ticks: { autoSkip: false, maxRotation: 0, padding: 3, font: { size: 13 }, callback: (v, k) => timeTicks[k] },
        grid: { drawOnChartArea: false, tickLength: 5, color: '#000' },
        border: { display: true, color: '#000' }
      },
      y: { position: 'right', min: 0, max: 1, afterFit: fixRightAxis,
           ticks: { display: false }, grid: { display: false }, border: { display: true, color: '#000' } }
    }
  },
  plugins: [{
    id: 'stripDecor',
    beforeDatasetsDraw(chart) {
      const { ctx, chartArea: a } = chart;
      ctx.save();
      ctx.fillStyle = '#000';
      ctx.font = '12px ' + FONT;
      ctx.textAlign = 'left';
      ctx.textBaseline = 'middle';
      ctx.fillText('\u00a9 2015 NinjaTrader, LLC', a.left + 1, a.top + 14);
      ctx.restore();
    },
    afterDraw(chart) {
      const { ctx, chartArea: a } = chart;
      ctx.save();
      drawTag(ctx, a.right, a.bottom - 3, '0', '#f2a81c', '#000', 12);
      ctx.restore();
    }
  }]
});
</script>
</body>
</html>
